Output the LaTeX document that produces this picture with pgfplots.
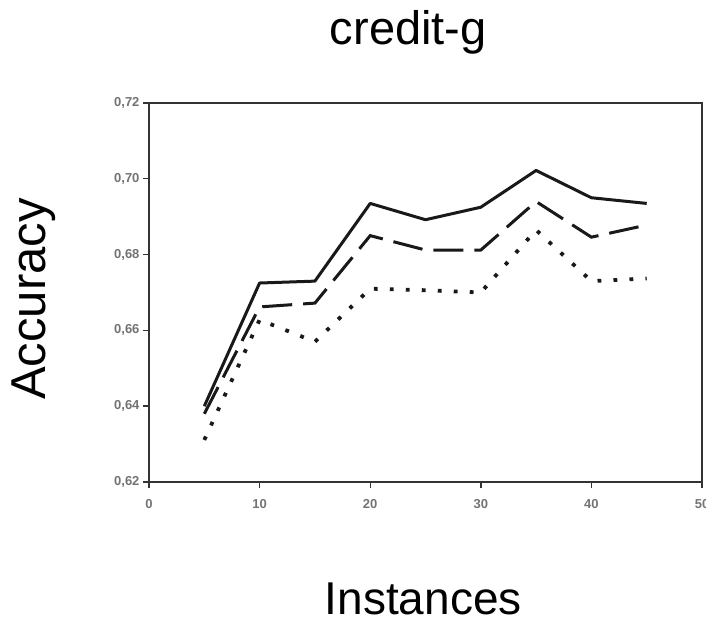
\documentclass[border=0pt]{standalone}
\usepackage{fontspec}
\setmainfont{Liberation Sans}
\usepackage{pgfplots}
\pgfplotsset{compat=1.18}

\begin{document}
\begin{tikzpicture}[x=1pt,y=1pt]
  \begin{axis}[
    at={(149pt,141pt)}, anchor=south west,
    width=553pt, height=379pt,
    scale only axis,
    xmin=0, xmax=50,
    ymin=0.62, ymax=0.72,
    xtick={0,10,20,30,40,50},
    ytick={0.62,0.64,0.66,0.68,0.70,0.72},
    tick align=outside, tick pos=left,
    major tick length=6pt,
    axis line style={line width=1.6pt, black!80},
    tick style={line width=1.4pt, black!80},
    yticklabel style={/pgf/number format/.cd, fixed, fixed zerofill, precision=2, use comma, assume math mode=true},
    xticklabel style={/pgf/number format/assume math mode=true, yshift=-8pt},
    ticklabel style={font=\fontsize{13}{14}\selectfont\bfseries, text=black!55},
    title={credit-g},
    title style={at={(axis description cs:0.469,1.138)}, anchor=base, font=\fontsize{47}{50}\selectfont},
    xlabel={Instances},
    xlabel style={at={(axis description cs:0.496,-0.349)}, anchor=base, text depth=0pt, inner sep=0pt, font=\fontsize{46}{50}\selectfont},
    ylabel={Accuracy},
    ylabel style={at={(axis description cs:-0.187,0.483)}, anchor=base, rotate=0, font=\fontsize{49}{52}\selectfont},
    clip=false,
  ]
  % solid
  \addplot[black!90, line width=3pt, line join=round] coordinates {
    (5,0.640) (10,0.6725) (15,0.673) (20,0.6935) (25,0.6892) (30,0.6925)
    (35,0.7022) (40,0.6950) (45,0.6935)
  };
  % dashed
  \addplot[black!90, line width=3pt, dash pattern=on 30pt off 11pt] coordinates {
    (5,0.638) (10,0.6662) (15,0.6672) (20,0.6850) (25,0.6812) (30,0.6812)
    (35,0.6940) (40,0.6846) (45,0.6878)
  };
  % dotted
  \addplot[black!90, line width=3.8pt, dash pattern=on 3.8pt off 12.2pt] coordinates {
    (5,0.6311) (10,0.6628) (15,0.6570) (20,0.6710) (25,0.6706) (30,0.6700)
    (35,0.6865) (40,0.6730) (45,0.6737)
  };
  \end{axis}
  \pgfresetboundingbox
  \path[use as bounding box] (0,0) rectangle (706,623);
\end{tikzpicture}
\end{document}
